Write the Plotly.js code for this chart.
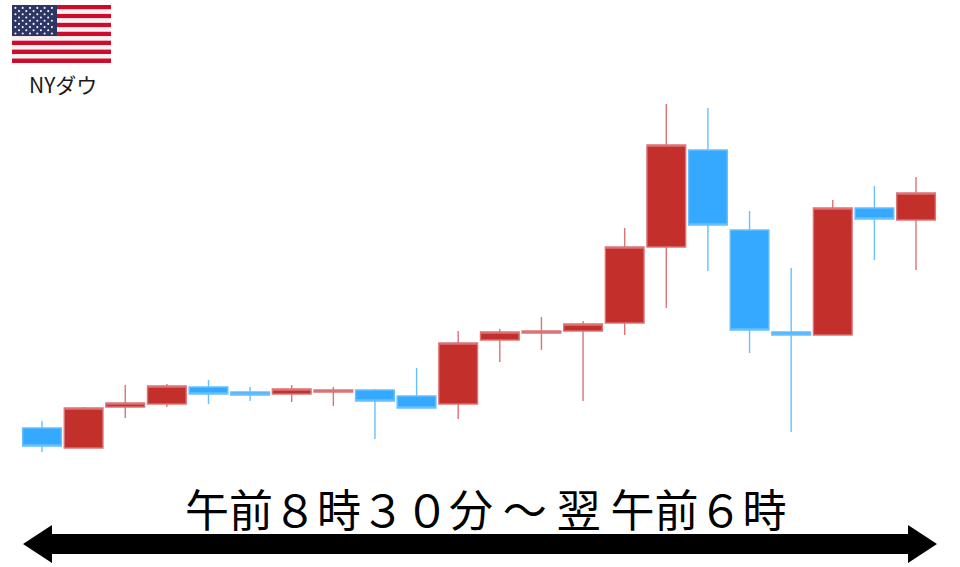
<!DOCTYPE html>
<html><head><meta charset="utf-8">
<script src="https://cdn.plot.ly/plotly-3.0.1.min.js"></script>
<style>html,body{margin:0;padding:0;background:#fff}#c{width:960px;height:567px}</style>
</head><body><div id="c"></div>
<script>
// Slot number of each candle
const slots = [1,2,3,4,5,6,7,8,9,10,11,12,13,14,15,16,17,18,19,20,21,22];
// Values on an unlabelled price scale (height above the foot of the image)
const open  = [139,119,160,163,180,175,173,175,177,171,163,227,234,236,244,320,417,337,235,232,359,347];
const close = [121,159,164,181,173,172,178,177,166,159,224,235,236,243,320,422,342,237,232,359,348,374];
const high  = [146,160,182,183,187,180,182,180,178,199,236,238,250,246,339,463,459,356,299,367,381,390];
const low   = [115,119,149,160,163,166,165,161,128,159,148,205,217,166,232,259,296,214,135,232,307,297];
const caption = "午前８時３０分 ～ 翌 午前６時";
const flagLabel = "NYダウ";

let stars = "";
for (let r = 0; r < 9; r++) {
  const n = r % 2 ? 5 : 6;
  for (let c = 0; c < n; c++) {
    const sx = (r % 2 ? 7 : 3.4) + c * 7.3;
    const sy = 2.9 + r * 3.2;
    stars += `<circle cx="${sx}" cy="${sy}" r="1.05" fill="#f4f4f8"/>`;
  }
}
let stripes = "";
for (let i = 0; i < 13; i++) {
  stripes += `<rect x="0" y="${i * 4.46}" width="99" height="4.46" fill="${i % 2 ? "#f5f1f3" : "#cc0c2a"}"/>`;
}
const flag = `<svg xmlns="http://www.w3.org/2000/svg" width="99" height="58" viewBox="0 0 99 58">${stripes}<rect x="0" y="0" width="45" height="31" fill="#2c3563"/>${stars}</svg>`;

const trace = {
  type: "candlestick", x: slots, open, close, high, low,
  whiskerwidth: 0, hoverinfo: "skip",
  increasing: {line: {color: "#dc7375", width: 1.4}, fillcolor: "#c32f2a"},
  decreasing: {line: {color: "#66c0ff", width: 1.4}, fillcolor: "#35a8ff"}
};
const X = p => (p - 42) / 41.62 + 1;
const layout = {
  width: 960, height: 567, margin: {l: 0, r: 0, t: 0, b: 0},
  paper_bgcolor: "#fff", plot_bgcolor: "#fff", showlegend: false, boxgap: 0.07, boxgroupgap: 0,
  xaxis: {range: [X(0), X(960)], visible: false, fixedrange: true, rangeslider: {visible: false}},
  yaxis: {range: [0, 567], visible: false, fixedrange: true},
  images: [{source: "data:image/svg+xml;charset=utf-8," + encodeURIComponent(flag),
    xref: "paper", yref: "paper", x: 12/960, y: 1 - 5/567, sizex: 99/960, sizey: 58/567,
    xanchor: "left", yanchor: "top", sizing: "stretch", layer: "above"}],
  shapes: [{type: "path", xref: "paper", yref: "paper", fillcolor: "#000", line: {width: 0},
    path: (() => {
      const px = (x, y) => `${x/960} ${1 - y/567}`;
      return `M ${px(23,544)} L ${px(52,525)} L ${px(52,534)} L ${px(908,534)} L ${px(908,525)} L ${px(937,544)} L ${px(908,563)} L ${px(908,554)} L ${px(52,554)} L ${px(52,563)} Z`;
    })()}],
  annotations: [
    {text: flagLabel, xref: "paper", yref: "paper", x: 62.5/960, y: 1 - 84/567, showarrow: false,
     xanchor: "center", yanchor: "middle", font: {family: "'Noto Sans CJK JP'", size: 21, color: "#1a1a1a"}},
    {text: caption, xref: "paper", yref: "paper", x: 486.5/960, y: 1 - 508/567, showarrow: false,
     xanchor: "center", yanchor: "middle", font: {family: "'Noto Sans CJK JP'", size: 44, color: "#000"}}
  ]
};
Plotly.newPlot("c", [trace], layout, {displayModeBar: false, staticPlot: true});
</script></body></html>
